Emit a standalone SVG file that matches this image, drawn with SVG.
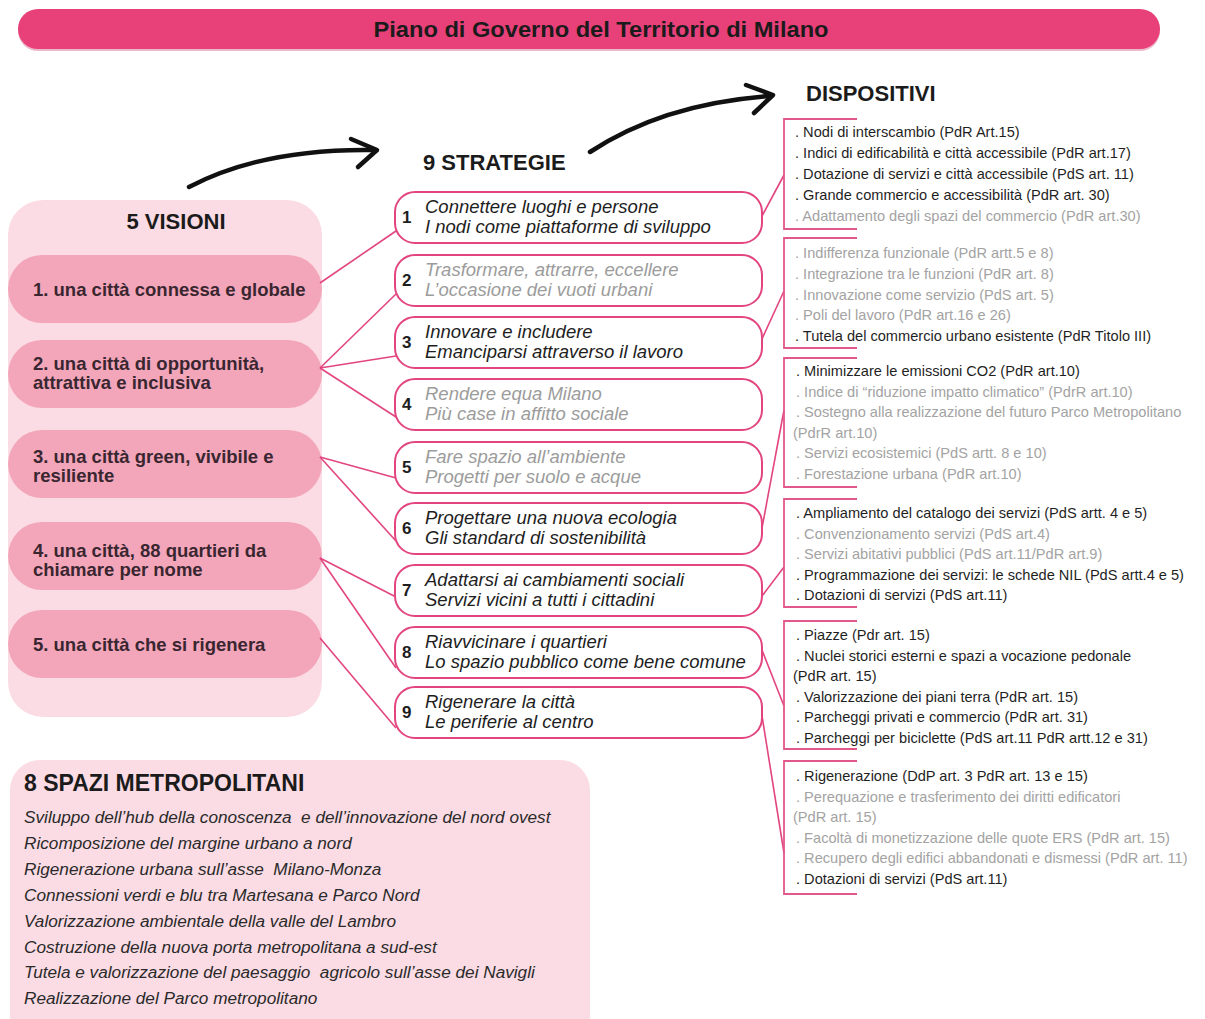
<svg xmlns="http://www.w3.org/2000/svg" width="1205" height="1019" viewBox="0 0 1205 1019">
<style>
.bg{fill:#ffffff}
.bar{fill:#E8417A}
.panel{fill:#FBDCE4}
.pill{fill:#F3A6BA}
.h{font-family:"Liberation Sans",Arial,sans-serif;font-weight:bold;fill:#1b1b1b}
.vis{font-family:"Liberation Sans",Arial,sans-serif;font-weight:bold;font-size:18.5px;fill:#3a2630}
.box{fill:#ffffff;stroke:#E2457F;stroke-width:2}
.num{font-family:"Liberation Sans",Arial,sans-serif;font-weight:bold;font-size:17px;fill:#1e1e1e}
.st{font-family:"Liberation Sans",Arial,sans-serif;font-style:italic;font-size:18.5px;fill:#1e1e1e}
.st.g{fill:#9c9c9c}
.dp{font-family:"Liberation Sans",Arial,sans-serif;font-size:14.6px;fill:#1f1f1f}
.dp.g{fill:#a3a3a3}
.br{fill:none;stroke:#E2588C;stroke-width:1.8}
.con{fill:none;stroke:#E2457F;stroke-width:1.6}
.arr{fill:none;stroke:#111111;stroke-width:4.5;stroke-linecap:round;stroke-linejoin:round}
.sp{font-family:"Liberation Sans",Arial,sans-serif;font-style:italic;font-size:17.2px;fill:#2a2a2a;white-space:pre}
</style>
<rect class="bg" x="0" y="0" width="1205" height="1019"/>

<g id="title">
<rect x="18" y="11" width="1142" height="40" rx="20" fill="#c9356a" opacity="0.35"/>
<rect class="bar" x="18" y="9" width="1142" height="40" rx="20"/>
<text class="h" x="601" y="37" font-size="22" text-anchor="middle" textLength="455" lengthAdjust="spacingAndGlyphs">Piano di Governo del Territorio di Milano</text>
</g>

<g id="arrows">
<path class="arr" d="M189,187 C235,163 295,149 372,150"/>
<path class="arr" d="M351,139 L377,150 L358,167"/>
<path class="arr" d="M590,152 C640,119 700,101 770,96"/>
<path class="arr" d="M746,85 L773,95 L754,113"/>
</g>

<g id="heading-dispositivi"><text class="h" x="806" y="101" font-size="22">DISPOSITIVI</text></g>
<g id="heading-strategie"><text class="h" x="423" y="170" font-size="22">9 STRATEGIE</text></g>

<g id="visioni">
<rect class="panel" x="8" y="200" width="314" height="517" rx="35"/>
<text class="h" x="176" y="229" font-size="22" text-anchor="middle">5 VISIONI</text>
<g id="visione-1"><rect class="pill" x="8" y="255" width="314" height="68" rx="34"/><text class="vis" x="33" y="296">1. una città connessa e globale</text></g>
<g id="visione-2"><rect class="pill" x="8" y="340" width="314" height="68" rx="34"/><text class="vis" x="33" y="370">2. una città di opportunità,</text><text class="vis" x="33" y="389">attrattiva e inclusiva</text></g>
<g id="visione-3"><rect class="pill" x="8" y="430" width="314" height="68" rx="34"/><text class="vis" x="33" y="463">3. una città green, vivibile e</text><text class="vis" x="33" y="482">resiliente</text></g>
<g id="visione-4"><rect class="pill" x="8" y="522" width="314" height="68" rx="34"/><text class="vis" x="33" y="557">4. una città, 88 quartieri da</text><text class="vis" x="33" y="576">chiamare per nome</text></g>
<g id="visione-5"><rect class="pill" x="8" y="610" width="314" height="68" rx="34"/><text class="vis" x="33" y="651">5. una città che si rigenera</text></g>
</g>

<g id="connectors">
<line class="con" x1="320" y1="283" x2="396" y2="231"/>
<line class="con" x1="320" y1="368" x2="396" y2="294"/>
<line class="con" x1="320" y1="368" x2="396" y2="356"/>
<line class="con" x1="320" y1="368" x2="396" y2="417"/>
<line class="con" x1="320" y1="457" x2="396" y2="478"/>
<line class="con" x1="320" y1="457" x2="396" y2="541"/>
<line class="con" x1="320" y1="558" x2="396" y2="597"/>
<line class="con" x1="320" y1="558" x2="396" y2="668"/>
<line class="con" x1="320" y1="638" x2="396" y2="728"/>
<line class="con" x1="762" y1="216" x2="784" y2="175"/>
<line class="con" x1="762" y1="339" x2="784" y2="291"/>
<line class="con" x1="762" y1="528" x2="784" y2="410"/>
<line class="con" x1="762" y1="596" x2="784" y2="567"/>
<line class="con" x1="762" y1="650" x2="784" y2="706"/>
<line class="con" x1="762" y1="716" x2="784" y2="853"/>
</g>

<g id="strategia-1"><rect class="box" x="395" y="192" width="367" height="51" rx="20"/><text class="num" x="402" y="223">1</text><text class="st" x="425" y="213">Connettere luoghi e persone</text><text class="st" x="425" y="233">I nodi come piattaforme di sviluppo</text></g>
<g id="strategia-2"><rect class="box" x="395" y="255" width="367" height="51" rx="20"/><text class="num" x="402" y="286">2</text><text class="st g" x="425" y="276">Trasformare, attrarre, eccellere</text><text class="st g" x="425" y="296">L’occasione dei vuoti urbani</text></g>
<g id="strategia-3"><rect class="box" x="395" y="317" width="367" height="51" rx="20"/><text class="num" x="402" y="348">3</text><text class="st" x="425" y="338">Innovare e includere</text><text class="st" x="425" y="358">Emanciparsi attraverso il lavoro</text></g>
<g id="strategia-4"><rect class="box" x="395" y="379" width="367" height="51" rx="20"/><text class="num" x="402" y="410">4</text><text class="st g" x="425" y="400">Rendere equa Milano</text><text class="st g" x="425" y="420">Più case in affitto sociale</text></g>
<g id="strategia-5"><rect class="box" x="395" y="442" width="367" height="51" rx="20"/><text class="num" x="402" y="473">5</text><text class="st g" x="425" y="463">Fare spazio all’ambiente</text><text class="st g" x="425" y="483">Progetti per suolo e acque</text></g>
<g id="strategia-6"><rect class="box" x="395" y="503" width="367" height="51" rx="20"/><text class="num" x="402" y="534">6</text><text class="st" x="425" y="524">Progettare una nuova ecologia</text><text class="st" x="425" y="544">Gli standard di sostenibilità</text></g>
<g id="strategia-7"><rect class="box" x="395" y="565" width="367" height="51" rx="20"/><text class="num" x="402" y="596">7</text><text class="st" x="425" y="586">Adattarsi ai cambiamenti sociali</text><text class="st" x="425" y="606">Servizi vicini a tutti i cittadini</text></g>
<g id="strategia-8"><rect class="box" x="395" y="627" width="367" height="51" rx="20"/><text class="num" x="402" y="658">8</text><text class="st" x="425" y="648">Riavvicinare i quartieri</text><text class="st" x="425" y="668">Lo spazio pubblico come bene comune</text></g>
<g id="strategia-9"><rect class="box" x="395" y="687" width="367" height="51" rx="20"/><text class="num" x="402" y="718">9</text><text class="st" x="425" y="708">Rigenerare la città</text><text class="st" x="425" y="728">Le periferie al centro</text></g>

<g id="dispositivi-1">
<path class="br" d="M857,119 H784 V229 H857"/>
<text class="dp" x="795" y="137">. Nodi di interscambio (PdR Art.15)</text>
<text class="dp" x="795" y="158">. Indici di edificabilità e città accessibile (PdR art.17)</text>
<text class="dp" x="795" y="179">. Dotazione di servizi e città accessibile (PdS art. 11)</text>
<text class="dp" x="795" y="200">. Grande commercio e accessibilità (PdR art. 30)</text>
<text class="dp g" x="795" y="221">. Adattamento degli spazi del commercio (PdR art.30)</text>
</g>
<g id="dispositivi-2">
<path class="br" d="M857,238 H784 V348 H857"/>
<text class="dp g" x="795" y="258">. Indifferenza funzionale (PdR artt.5 e 8)</text>
<text class="dp g" x="795" y="279">. Integrazione tra le funzioni (PdR art. 8)</text>
<text class="dp g" x="795" y="299.5">. Innovazione come servizio (PdS art. 5)</text>
<text class="dp g" x="795" y="320">. Poli del lavoro (PdR art.16 e 26)</text>
<text class="dp" x="795" y="340.5">. Tutela del commercio urbano esistente (PdR Titolo III)</text>
</g>
<g id="dispositivi-3">
<path class="br" d="M857,358 H784 V487 H857"/>
<text class="dp" x="796" y="376">. Minimizzare le emissioni CO2 (PdR art.10)</text>
<text class="dp g" x="796" y="396.5">. Indice di “riduzione impatto climatico” (PdrR art.10)</text>
<text class="dp g" x="796" y="417">. Sostegno alla realizzazione del futuro Parco Metropolitano</text>
<text class="dp g" x="793" y="437.5">(PdrR art.10)</text>
<text class="dp g" x="796" y="458">. Servizi ecosistemici (PdS artt. 8 e 10)</text>
<text class="dp g" x="796" y="478.5">. Forestazione urbana (PdR art.10)</text>
</g>
<g id="dispositivi-4">
<path class="br" d="M857,499 H784 V607 H857"/>
<text class="dp" x="796" y="518">. Ampliamento del catalogo dei servizi (PdS artt. 4 e 5)</text>
<text class="dp g" x="796" y="538.5">. Convenzionamento servizi (PdS art.4)</text>
<text class="dp g" x="796" y="559">. Servizi abitativi pubblici (PdS art.11/PdR art.9)</text>
<text class="dp" x="796" y="579.5">. Programmazione dei servizi: le schede NIL (PdS artt.4 e 5)</text>
<text class="dp" x="796" y="600">. Dotazioni di servizi (PdS art.11)</text>
</g>
<g id="dispositivi-5">
<path class="br" d="M857,621 H784 V749 H857"/>
<text class="dp" x="796" y="640">. Piazze (Pdr art. 15)</text>
<text class="dp" x="796" y="660.5">. Nuclei storici esterni e spazi a vocazione pedonale</text>
<text class="dp" x="793" y="681">(PdR art. 15)</text>
<text class="dp" x="796" y="701.5">. Valorizzazione dei piani terra (PdR art. 15)</text>
<text class="dp" x="796" y="722">. Parcheggi privati e commercio (PdR art. 31)</text>
<text class="dp" x="796" y="742.5">. Parcheggi per biciclette (PdS art.11 PdR artt.12 e 31)</text>
</g>
<g id="dispositivi-6">
<path class="br" d="M857,761 H784 V894 H857"/>
<text class="dp" x="796" y="781">. Rigenerazione (DdP art. 3 PdR art. 13 e 15)</text>
<text class="dp g" x="796" y="801.5">. Perequazione e trasferimento dei diritti edificatori</text>
<text class="dp g" x="793" y="822">(PdR art. 15)</text>
<text class="dp g" x="796" y="842.5">. Facoltà di monetizzazione delle quote ERS (PdR art. 15)</text>
<text class="dp g" x="796" y="863">. Recupero degli edifici abbandonati e dismessi (PdR art. 11)</text>
<text class="dp" x="796" y="883.5">. Dotazioni di servizi (PdS art.11)</text>
</g>

<g id="spazi-metropolitani">
<rect class="panel" x="10" y="760" width="580" height="290" rx="30"/>
<text class="h" x="24" y="791" font-size="23">8 SPAZI METROPOLITANI</text>
<text class="sp" x="24" y="823">Sviluppo dell’hub della conoscenza  e dell’innovazione del nord ovest</text>
<text class="sp" x="24" y="849">Ricomposizione del margine urbano a nord</text>
<text class="sp" x="24" y="875">Rigenerazione urbana sull’asse  Milano-Monza</text>
<text class="sp" x="24" y="901">Connessioni verdi e blu tra Martesana e Parco Nord</text>
<text class="sp" x="24" y="927">Valorizzazione ambientale della valle del Lambro</text>
<text class="sp" x="24" y="953">Costruzione della nuova porta metropolitana a sud-est</text>
<text class="sp" x="24" y="978">Tutela e valorizzazione del paesaggio  agricolo sull’asse dei Navigli</text>
<text class="sp" x="24" y="1004">Realizzazione del Parco metropolitano</text>
</g>
</svg>
